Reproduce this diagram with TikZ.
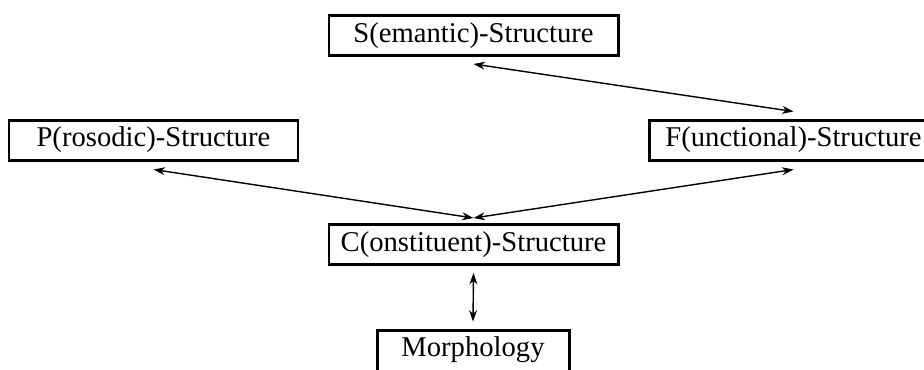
\documentclass[tikz,border=0pt]{standalone}
\usepackage{fontspec}
\setmainfont{Liberation Serif}
\usepackage{tikz}
\usetikzlibrary{arrows.meta}
\usetikzlibrary{positioning}

\tikzset{
  level/.style={draw, line width=1.7pt, minimum width=5.78cm, minimum height=0.8cm, inner sep=0pt, font=\fontsize{16.3}{19}\selectfont},
  link/.style={{Stealth[length=6.5pt,width=4.5pt]}-{Stealth[length=6.5pt,width=4.5pt]}, line width=0.8pt}
}

\begin{document}
\begin{tikzpicture}
\useasboundingbox (0,0) rectangle (18.48,-7.38);
\node[level] (sstr) at (9.47,-0.71) {S(emantic)-Structure};
\node[level] (pstr) at (3.07,-2.8) {P(rosodic)-Structure};
\node[level] (fstr) at (15.87,-2.8) {F(unctional)-Structure};
\node[level] (cstr) at (9.47,-4.89) {C(onstituent)-Structure};
\node[level, minimum width=3.84cm, minimum height=0.9cm, text depth=0.25cm] (morph) at (9.46,-7.05) {Morphology};
\draw[link] ([yshift=-0.14cm]sstr.south) -- ([yshift=0.14cm]fstr.north);
\draw[link] ([yshift=-0.16cm]pstr.south) -- ([yshift=0.1cm]cstr.north);
\draw[link] ([yshift=-0.16cm]fstr.south) -- ([yshift=0.1cm]cstr.north);
\draw[link] ([yshift=-0.14cm]cstr.south) -- ([yshift=0.14cm]morph.north);
\end{tikzpicture}
\end{document}
